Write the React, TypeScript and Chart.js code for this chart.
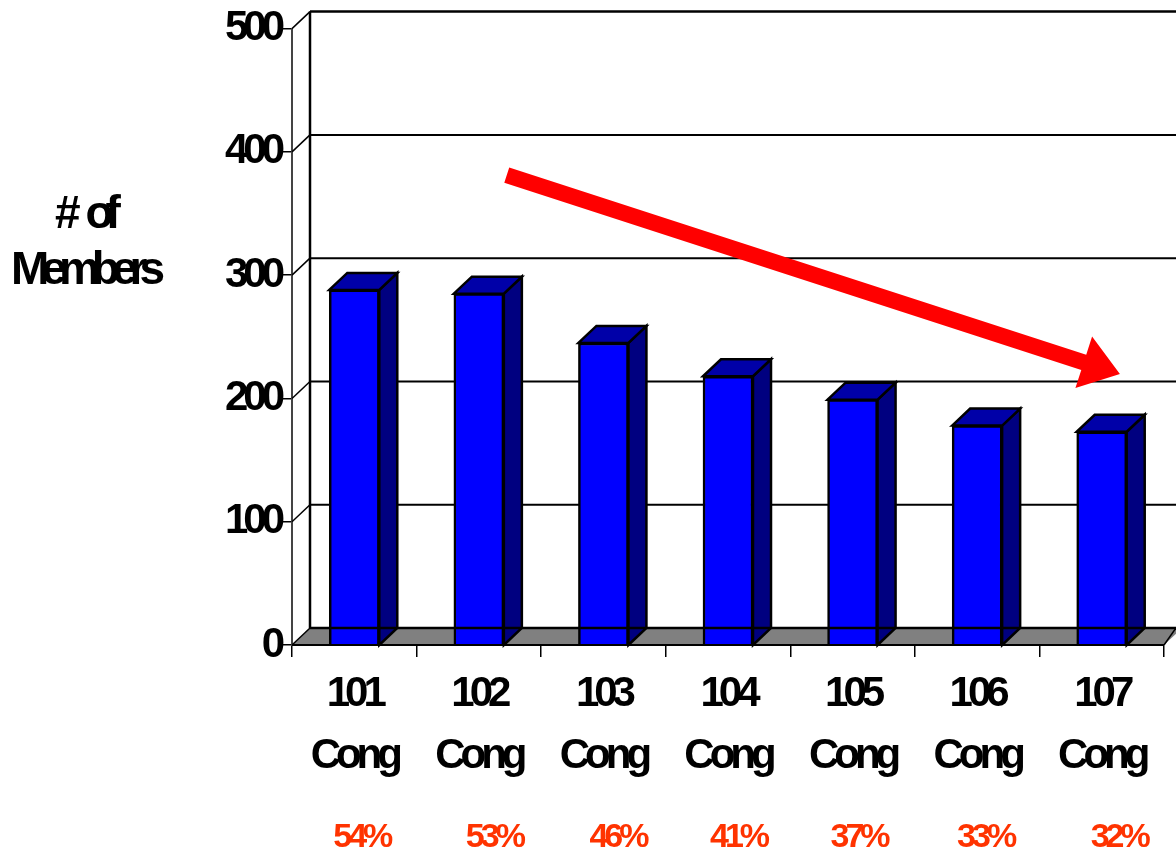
import React, { useEffect, useRef } from "react";
import { Chart, registerables } from "chart.js";

Chart.register(...registerables);

const congressNumbers = ["101", "102", "103", "104", "105", "106", "107"];
const memberCounts = [288, 285, 245, 218, 199, 178, 173];
const percentLabels = ["54%", "53%", "46%", "41%", "37%", "33%", "32%"];
const percentNudge = [7, 15, 14, 10, 6, 8, 17];
const yTicks = [0, 100, 200, 300, 400, 500];
const titleLines = ["# of", "Members"];

const FONT = '"Liberation Sans", Arial, sans-serif';
const DX = 18;
const DY = 17;

const poly = (ctx: any, pts: number[][], fill: string | null, stroke = "#000", lw = 2.5) => {
  ctx.beginPath();
  pts.forEach((p, i) => (i ? ctx.lineTo(p[0], p[1]) : ctx.moveTo(p[0], p[1])));
  ctx.closePath();
  if (fill) {
    ctx.fillStyle = fill;
    ctx.fill();
  }
  if (stroke) {
    ctx.strokeStyle = stroke;
    ctx.lineWidth = lw;
    ctx.stroke();
  }
};

const line = (ctx: any, x1: number, y1: number, x2: number, y2: number, lw: number, color = "#000") => {
  ctx.beginPath();
  ctx.moveTo(x1, y1);
  ctx.lineTo(x2, y2);
  ctx.lineWidth = lw;
  ctx.strokeStyle = color;
  ctx.stroke();
};

const chart3d = {
  id: "chart3d",
  beforeDraw(chart: any) {
    chart.ctx.letterSpacing = "-5px";
  },
  beforeDatasetsDraw(chart: any) {
    const { ctx, scales, width } = chart;
    const { left, right } = chart.chartArea;
    const y = scales.y;
    ctx.save();
    const base = y.getPixelForValue(0);
    poly(ctx, [[left, base], [left + DX, base - DY], [right + DX, base - DY], [right, base]], "#808080", "", 0);
    yTicks.forEach((v) => {
      const py = y.getPixelForValue(v);
      line(ctx, left, py, left + DX, py - DY, 1.5);
      if (v > 0) line(ctx, left + DX, py - DY, width, py - DY, v === 500 ? 2.5 : 2);
    });
    line(ctx, left + DX, y.getPixelForValue(500) - DY, left + DX, base - DY, 2.5);
    ctx.restore();
  },
  afterDatasetsDraw(chart: any) {
    const { ctx, scales, width } = chart;
    const { left, right } = chart.chartArea;
    const meta = chart.getDatasetMeta(0);
    const base = scales.y.getPixelForValue(0);
    ctx.save();
    meta.data.forEach((bar: any) => {
      const half = bar.width / 2;
      const l = bar.x - half;
      const r = bar.x + half;
      const t = bar.y;
      poly(ctx, [[r, base], [r + DX, base - DY], [r + DX, t - DY], [r, t]], "#000080");
      poly(ctx, [[l, t], [l + DX, t - DY], [r + DX, t - DY], [r, t]], "#0000A8");
    });
    line(ctx, left + DX, base - DY, width, base - DY, 2.5);
    line(ctx, left, base, right, base, 2);
    line(ctx, right, base, Math.min(right + DX, width), base - DY, 1.5);
    ctx.restore();
  },
  afterDraw(chart: any) {
    const { ctx, scales } = chart;
    const x = scales.x;
    const y = scales.y;
    ctx.save();

    // Trend arrow, anchored in data space
    const sx = x.getPixelForValue(1.224);
    const sy = y.getPixelForValue(381.2);
    const tx = x.getPixelForValue(6.146);
    const ty = y.getPixelForValue(219.8);
    const len = Math.hypot(tx - sx, ty - sy);
    const ux = (tx - sx) / len;
    const uy = (ty - sy) / len;
    const nx = -uy;
    const ny = ux;
    const hl = 38;
    const hw = 27;
    const sw = 8;
    const bx = tx - ux * hl;
    const by = ty - uy * hl;
    poly(
      ctx,
      [
        [sx + nx * sw, sy + ny * sw],
        [bx + nx * sw, by + ny * sw],
        [bx + nx * hw, by + ny * hw],
        [tx, ty],
        [bx - nx * hw, by - ny * hw],
        [bx - nx * sw, by - ny * sw],
        [sx - nx * sw, sy - ny * sw],
      ],
      "#FF0000",
      "",
      0
    );

    ctx.textAlign = "center";
    ctx.textBaseline = "middle";

    // Percentages under the categories
    ctx.fillStyle = "#FF3300";
    ctx.font = `bold 34px ${FONT}`;
    ctx.letterSpacing = "-4px";
    percentLabels.forEach((label, i) => {
      ctx.fillText(label, x.getPixelForValue(i) + percentNudge[i], 838);
    });

    // Axis title
    ctx.fillStyle = "#000";
    ctx.font = `bold 46px ${FONT}`;
    ctx.letterSpacing = "-8px";
    (ctx as any).wordSpacing = "8px";
    titleLines.forEach((label, i) => {
      ctx.fillText(label, 84, 215 + i * 56);
    });
    ctx.restore();
  },
};

export default function App() {
  const ref = useRef<HTMLCanvasElement>(null);
  useEffect(() => {
    const chart = new Chart(ref.current as HTMLCanvasElement, {
      type: "bar",
      data: {
        labels: congressNumbers.map((n) => [n, "Cong"]),
        datasets: [
          {
            data: memberCounts,
            backgroundColor: "#0000FF",
            borderColor: "#000",
            borderWidth: 2.5,
            barThickness: 50,
          },
        ],
      },
      options: {
        responsive: false,
        animation: false,
        devicePixelRatio: 1,
        layout: {
          autoPadding: false,
          padding: { left: 0, right: 12, top: 28.6, bottom: 0 },
        },
        plugins: { legend: { display: false }, tooltip: { enabled: false }, title: { display: false } },
        scales: {
          x: {
            afterFit: (s: any) => {
              s.height = 210;
            },
            grid: { drawOnChartArea: false, tickLength: 12, color: "#000", lineWidth: 1.5, offset: true },
            border: { display: true, color: "#000", width: 1.5 },
            ticks: {
              color: "#000",
              maxRotation: 0,
              autoSkip: false,
              padding: 6,
              font: { family: FONT, size: 42, weight: "bold", lineHeight: 1.48 },
            },
          },
          y: {
            min: 0,
            max: 500,
            afterFit: (s: any) => {
              s.width = 292;
            },
            grid: { drawOnChartArea: false, tickLength: 9, color: "#000", lineWidth: 1.5 },
            border: { display: true, color: "#444", width: 2 },
            ticks: {
              stepSize: 100,
              color: "#000",
              padding: 3,
              font: { family: FONT, size: 42, weight: "bold" },
            },
          },
        },
      },
      plugins: [chart3d],
    } as any);
    return () => chart.destroy();
  }, []);
  return (
    <div style={{ position: "fixed", left: 0, top: 0, width: 1176, height: 855 }}>
      <canvas ref={ref} width={1176} height={855} style={{ display: "block" }} />
    </div>
  );
}
